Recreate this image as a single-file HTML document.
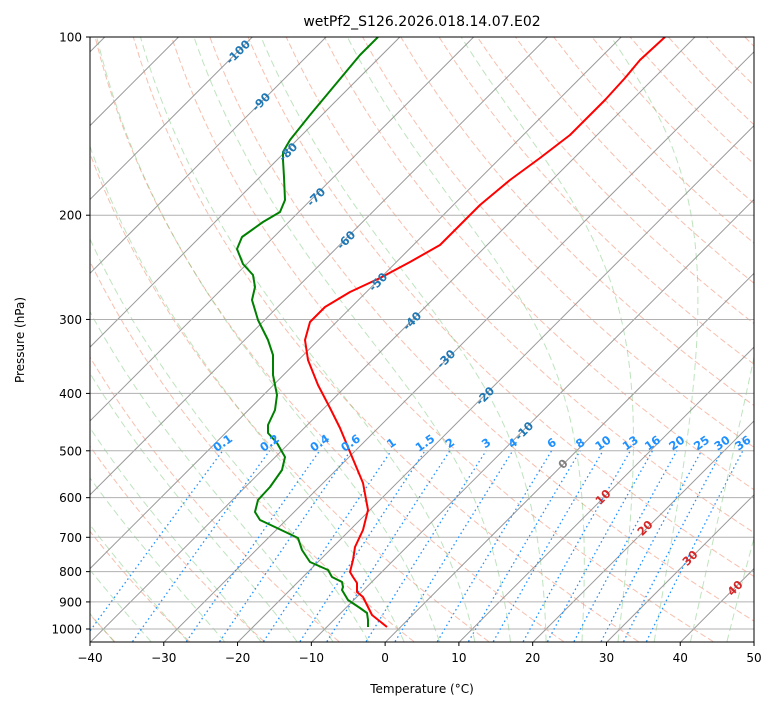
<!DOCTYPE html>
<html><head><meta charset="utf-8"><style>
body{margin:0;background:#fff;width:775px;height:708px;overflow:hidden;font-family:"DejaVu Sans","Liberation Sans",sans-serif}
</style></head><body>
<svg id="s" width="775" height="708" xmlns="http://www.w3.org/2000/svg" font-family="DejaVu Sans, Liberation Sans, sans-serif">
<defs><clipPath id="c"><rect x="90" y="37" width="664" height="605"/></clipPath></defs>
<g id="bg" clip-path="url(#c)"></g>
<g id="fg" clip-path="url(#c)">
<path fill="none" stroke="#ff0000" stroke-width="2" stroke-linejoin="round" d="M665,37 L640,60 L625,78 L605,100 L590,115 L570,135 L540,158 L510,180 L480,205 L460,225 L440,245 L410,262 L380,278 L350,292 L325,307 L310,322 L305,340 L308,360 L318,385 L330,408 L340,428 L350,452 L363,483 L368,510 L363,530 L355,547 L353,560 L350,572 L353,577 L357,583 L357,592 L363,597 L368,607 L372,615 L387,627"/>
<path fill="none" stroke="#008000" stroke-width="2" stroke-linejoin="round" d="M378,37 L360,55 L335,85 L310,115 L290,140 L283,152 L283,160 L284,177 L285,200 L280,212 L263,222 L242,237 L237,249 L243,264 L253,275 L255,287 L252,300 L258,320 L268,340 L273,355 L273,375 L277,395 L275,410 L268,425 L268,433 L277,443 L285,457 L282,470 L270,487 L258,500 L255,512 L260,520 L277,528 L298,538 L302,550 L310,562 L328,570 L332,577 L342,582 L343,587 L342,590 L348,600 L360,608 L367,613 L368,620 L368,627"/>
</g>
<g id="lab" font-weight="bold" font-size="11.5"></g>
<rect x="90" y="37" width="664" height="605" fill="none" stroke="#000" stroke-width="1"/>
<g id="ax" font-size="12" fill="#000"></g>
<text x="422" y="26" text-anchor="middle" font-size="14">wetPf2_S126.2026.018.14.07.E02</text>
<text x="422" y="693" text-anchor="middle" font-size="12">Temperature (°C)</text>
<text transform="translate(24,340) rotate(-90)" text-anchor="middle" font-size="12">Pressure (hPa)</text>
</svg>
<script>
var NS="http://www.w3.org/2000/svg";var SK=1.0;
function Y(p){return 37+592*Math.log10(p/100);}
function X(T,p){return 90+(T+40)*7.378+(642-Y(p))*SK;}
function el(par,tag,at,txt){var e=document.createElementNS(NS,tag);for(var k in at)e.setAttribute(k,at[k]);if(txt!==undefined)e.textContent=txt;document.getElementById(par).appendChild(e);return e;}
var ps=[];for(var p=1050;p>=99;p-=10)ps.push(p);
for(var th=-150;th<=300;th+=10){var d="";ps.forEach(function(p,i){var T=(th+273.15)*Math.pow(p/1000,0.2857)-273.15;d+=(i?"L":"M")+X(T,p).toFixed(1)+","+Y(p).toFixed(1);});
el("bg","path",{d:d,fill:"none",stroke:"#f08060","stroke-opacity":"0.5","stroke-width":"1","stroke-dasharray":"6,3"});}
function es(T){return 6.112*Math.exp(17.67*T/(T+243.5));}
function moist(T0){var Rd=287.04,Cp=1005.7,Lv=2.501e6,eps=0.622;
 function dTdp(T,p){var Tk=T+273.15;var rs=eps*es(T)/(p-es(T));return (Rd*Tk+Lv*rs)/(p*(Cp+Lv*Lv*rs*eps/(Rd*Tk*Tk)));}
 var arr=[];var T=T0;for(var p=1000;p>=100;p-=2){arr.push([T,p]);T-=dTdp(T,p)*2;}
 T=T0;var lo=[];for(var p=1000;p<=1050;p+=2){lo.unshift([T,p]);T+=dTdp(T,p)*2;}
 return lo.concat(arr);}
for(var t0=-50;t0<=50;t0+=5){var a=moist(t0);var d="";a.forEach(function(q,i){d+=(i?"L":"M")+X(q[0],q[1]).toFixed(1)+","+Y(q[1]).toFixed(1);});
el("bg","path",{d:d,fill:"none",stroke:"#5cb85c","stroke-opacity":"0.4","stroke-width":"1","stroke-dasharray":"7,4"});}
for(var T=-200;T<=60;T+=10){el("bg","line",{x1:X(T,1050),y1:642,x2:X(T,100),y2:37,stroke:"#999","stroke-width":"1"});}
for(var p=100;p<=1000;p+=100){el("bg","line",{x1:90,x2:754,y1:Y(p),y2:Y(p),stroke:"#b0b0b0","stroke-width":"1"});}
function Td(w,p){var e=p*w/(622+w);var l=Math.log(e/6.112);return 243.5*l/(17.67-l);}
["0.1","0.2","0.4","0.6","1","1.5","2","3","4","6","8","10","13","16","20","25","30","36"].forEach(function(s){var w=+s;var d="";
 for(var p=1050;p>=500;p-=10){d+=(p==1050?"M":"L")+X(Td(w,p),p).toFixed(1)+","+Y(p).toFixed(1);}
 el("bg","path",{d:d,fill:"none",stroke:"#1e90ff","stroke-width":"1.3","stroke-dasharray":"1.5,3"});
 var xt=X(Td(w,500),500);
 el("lab","text",{x:xt,y:447,fill:"#1e90ff","text-anchor":"middle",transform:"rotate(-35 "+xt+" 443)"},s);});
var il=[["-100",238,52],["-90",261,102],["-80",288,152],["-70",316,197],["-60",346,240],["-50",378,282],["-40",412,321],["-30",446,359],["-20",485,396],["-10",524,431],["0",563,464],["10",603,497],["20",645,528],["30",690,558],["40",735,588]];
il.forEach(function(l){var v=+l[0];var c=v<0?"#1f77b4":(v==0?"#808080":"#d62728");
 el("lab","text",{x:l[1],y:l[2]+4,fill:c,"text-anchor":"middle",transform:"rotate(-45 "+l[1]+" "+l[2]+")"},l[0]);});
for(var p=100;p<=1000;p+=100){var y=Y(p);el("ax","line",{x1:86,x2:90,y1:y,y2:y,stroke:"#000"});el("ax","text",{x:82,y:y+4.5,"text-anchor":"end"},p);}
for(var T=-40;T<=50;T+=10){var x=90+(T+40)*7.378;el("ax","line",{x1:x,x2:x,y1:642,y2:646,stroke:"#000"});el("ax","text",{x:x,y:662,"text-anchor":"middle"},(T<0?"\u2212"+(-T):T));}
</script>
</body></html>
